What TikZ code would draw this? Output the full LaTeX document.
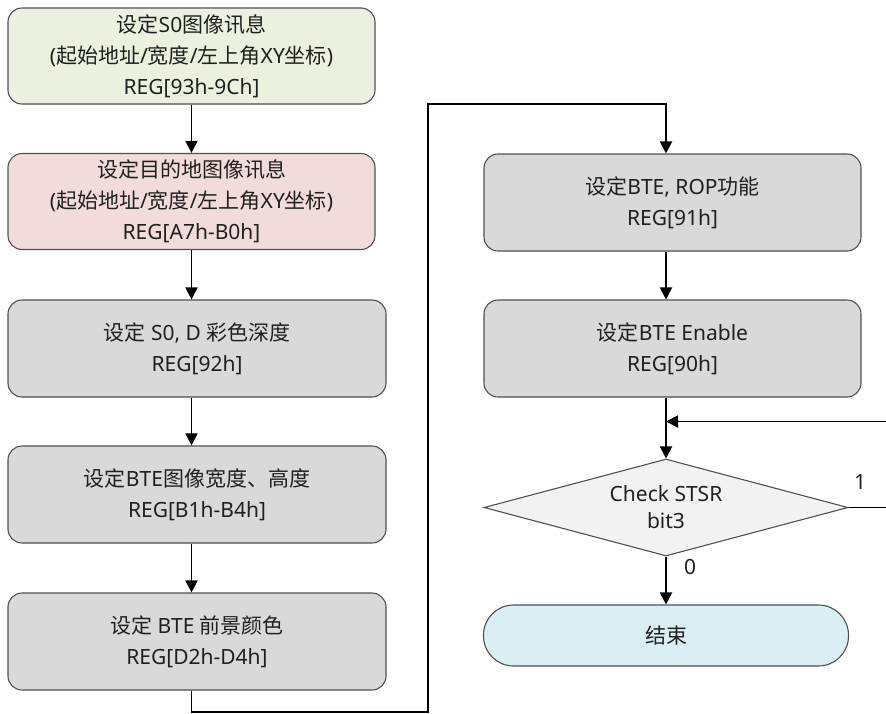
\documentclass[tikz,border=0pt]{standalone}
\usepackage{fontspec}
\setmainfont{Noto Sans}
\newfontfamily\cjk{Noto Sans CJK SC}
\newcommand\zh[1]{{\cjk #1}}
\usetikzlibrary{shapes.geometric,arrows.meta}
\definecolor{boxline}{HTML}{505050}
\definecolor{txt}{HTML}{202020}
\definecolor{cgreen}{HTML}{EBF1DE}
\definecolor{cpink}{HTML}{F2DCDB}
\definecolor{cgray}{HTML}{D9D9D9}
\definecolor{clight}{HTML}{F2F2F2}
\definecolor{cblue}{HTML}{DAEEF3}
\begin{document}
\begin{tikzpicture}[x=1pt,y=-1pt,
  procbox/.style={draw=boxline, line width=1.1pt, rounded corners=14pt,
    inner sep=0pt, align=center, text=txt,
    font=\fontsize{21}{31}\selectfont},
  leftA/.style={procbox, minimum width=367pt, minimum height=96pt},
  leftB/.style={procbox, fill=cgray, minimum width=378pt, minimum height=97pt},
  rightbox/.style={procbox, fill=cgray, minimum width=377pt, minimum height=97pt},
  flow/.style={line width=1.9pt, -{Triangle[length=12pt,width=12pt]}},
  plain/.style={line width=1.9pt},
  lbl/.style={font=\fontsize{21}{25}\selectfont, text=txt, inner sep=0pt}
]
\useasboundingbox (0,0) rectangle (886,713);

\node[leftA, fill=cgreen] (b1) at (191.5,56)
  {\zh{设定}S0\zh{图像讯息}\\(\zh{起始地址}/\zh{宽度}/\zh{左上角}XY\zh{坐标})\\REG[93h-9Ch]};
\node[leftA, fill=cpink] (b2) at (191.5,201.5)
  {\zh{设定目的地图像讯息}\\(\zh{起始地址}/\zh{宽度}/\zh{左上角}XY\zh{坐标})\\REG[A7h-B0h]};
\node[leftB] (b3) at (197,348.5) {\zh{设定} S0, D \zh{彩色深度}\\REG[92h]};
\node[leftB] (b4) at (197,494.5) {\zh{设定}BTE\zh{图像宽度、高度}\\REG[B1h-B4h]};
\node[leftB] (b5) at (197,641.5) {\zh{设定} BTE \zh{前景颜色}\\REG[D2h-D4h]};

\node[rightbox] (b6) at (672.5,202.5) {\zh{设定}BTE, ROP\zh{功能}\\REG[91h]};
\node[rightbox] (b7) at (672.5,348.5) {\zh{设定}BTE Enable\\REG[90h]};

\node[diamond, shape aspect=3.75, draw=boxline, line width=1.1pt, fill=clight, inner sep=0pt,
  minimum width=364pt, minimum height=97pt, align=center, text=txt,
  font=\fontsize{21}{27}\selectfont] (d) at (666,507.5) {Check STSR\\bit3};
\node[procbox, fill=cblue, rounded corners=30pt, minimum width=365pt,
  minimum height=61pt] (t) at (666,635.5) {\zh{结束}};

% left column
\draw[flow] (b1.south) -- (b2.north);
\draw[flow] (b2.south) -- (b2.south |- b3.north);
\draw[flow] (b2.south |- b3.south) -- (b2.south |- b4.north);
\draw[flow] (b2.south |- b4.south) -- (b2.south |- b5.north);

% bridge to right column
\coordinate (c1) at (191.5,712);
\coordinate (c2) at (428,712);
\coordinate (c3) at (428,104);
\draw[flow] (b2.south |- b5.south) -- (c1) -- (c2) -- (c3) -| (d.north |- b6.north);

% right column
\draw[flow] (d.north |- b6.south) -- (d.north |- b7.north);
\draw[flow] (d.north |- b7.south) -- (d.north);
\coordinate (e1) at (886,421.5);
\coordinate (e2) at (886,507.5);
\draw[flow] (e1) -- (d.north |- e1);
\draw[plain] (d.east) -- (e2);
\draw[flow] (d.south) -- (t.north);

\node[lbl] (one) at (860,482) {1};
\node[lbl] (zero) at (690,567) {0};
\end{tikzpicture}
\end{document}
